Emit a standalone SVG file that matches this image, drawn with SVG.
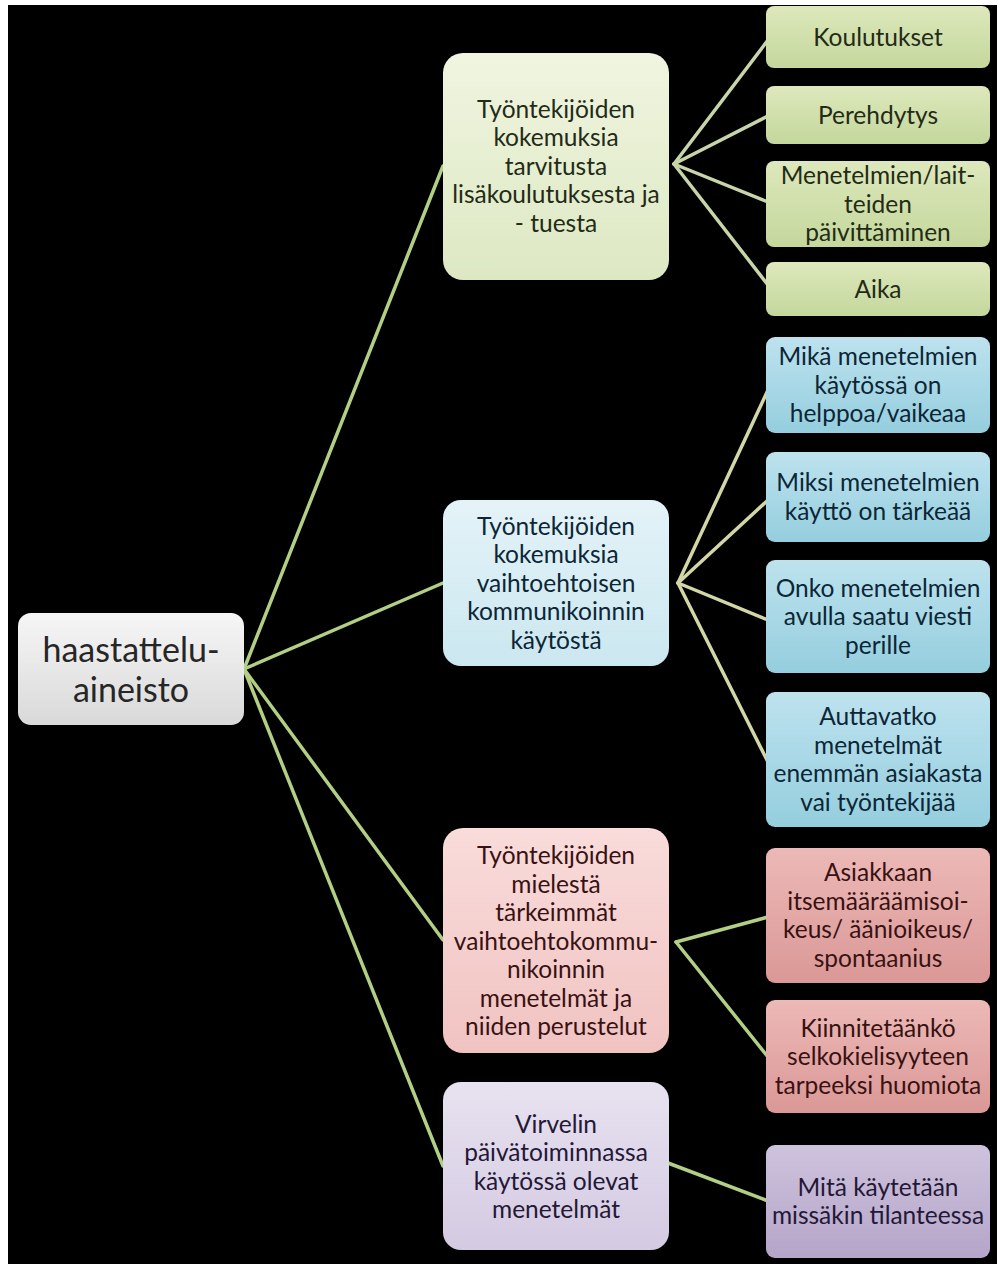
<svg xmlns="http://www.w3.org/2000/svg" width="997" height="1264" viewBox="0 0 997 1264">
<style>
text{font-family:Lato,"Open Sans","Liberation Sans",sans-serif;text-anchor:middle}
.t0{font-size:34px;fill:#262626}
.t1{font-size:24.5px}
.t2{font-size:24.5px}
.tg{fill:#232b16}
.tb{fill:#0c2636}
.tp{fill:#381212}
.tu{fill:#231836}
.c{fill:none;stroke-width:3.5;stroke-linecap:round}
.cg{stroke:#b3cf86}
.cy{stroke:#d3d6a6}
.ck{stroke:#c8d4aa}
</style>
<defs>
<linearGradient id="g0" x1="0" y1="0" x2="0" y2="1"><stop offset="0" stop-color="#f6f6f6"/><stop offset="1" stop-color="#d9d9d9"/></linearGradient>
<linearGradient id="gG1" x1="0" y1="0" x2="0" y2="1"><stop offset="0" stop-color="#f0f5e0"/><stop offset="1" stop-color="#dde8c3"/></linearGradient>
<linearGradient id="gG2" x1="0" y1="0" x2="0" y2="1"><stop offset="0" stop-color="#dde8bc"/><stop offset="1" stop-color="#c4d79c"/></linearGradient>
<linearGradient id="gB1" x1="0" y1="0" x2="0" y2="1"><stop offset="0" stop-color="#e4f3f8"/><stop offset="1" stop-color="#cbe7f0"/></linearGradient>
<linearGradient id="gB2" x1="0" y1="0" x2="0" y2="1"><stop offset="0" stop-color="#bde2ee"/><stop offset="1" stop-color="#95cede"/></linearGradient>
<linearGradient id="gP1" x1="0" y1="0" x2="0" y2="1"><stop offset="0" stop-color="#f9dcdb"/><stop offset="1" stop-color="#f0c3c1"/></linearGradient>
<linearGradient id="gP2" x1="0" y1="0" x2="0" y2="1"><stop offset="0" stop-color="#ecb9b7"/><stop offset="1" stop-color="#da9896"/></linearGradient>
<linearGradient id="gU1" x1="0" y1="0" x2="0" y2="1"><stop offset="0" stop-color="#e8e2f0"/><stop offset="1" stop-color="#d4cae2"/></linearGradient>
<linearGradient id="gU2" x1="0" y1="0" x2="0" y2="1"><stop offset="0" stop-color="#cec3dd"/><stop offset="1" stop-color="#b5a5c9"/></linearGradient>
</defs>
<rect x="0" y="0" width="997" height="1264" fill="#ffffff"/>
<rect x="8" y="5" width="989" height="1259" fill="#000000"/>

<g id="connectors">
<line class="c cg" x1="244" y1="669" x2="443" y2="166"/>
<line class="c cg" x1="244" y1="669" x2="443" y2="583"/>
<line class="c cg" x1="244" y1="669" x2="443" y2="940"/>
<line class="c cg" x1="244" y1="669" x2="443" y2="1166"/>
<line class="c ck" x1="674" y1="164" x2="768" y2="40"/>
<line class="c ck" x1="674" y1="164" x2="768" y2="116"/>
<line class="c ck" x1="674" y1="164" x2="768" y2="202"/>
<line class="c ck" x1="674" y1="164" x2="768" y2="285"/>
<line class="c cy" x1="678" y1="583" x2="768" y2="390"/>
<line class="c cy" x1="678" y1="583" x2="768" y2="500"/>
<line class="c cy" x1="678" y1="583" x2="768" y2="620"/>
<line class="c cy" x1="678" y1="583" x2="768" y2="762"/>
<line class="c cg" x1="676" y1="942" x2="768" y2="917"/>
<line class="c cg" x1="676" y1="942" x2="768" y2="1057"/>
<line class="c cg" x1="668" y1="1163" x2="768" y2="1201"/>
</g>

<g id="root">
<rect x="18" y="613" width="226" height="112" rx="13" fill="url(#g0)"/>
<text class="t0" x="131" y="662">haastattelu-</text>
<text class="t0" x="131" y="702">aineisto</text>
</g>

<g id="n-lisakoulutus">
<rect x="443" y="53" width="226" height="227" rx="20" fill="url(#gG1)"/>
<text class="t1 tg" x="556" y="117.5">Työntekijöiden</text>
<text class="t1 tg" x="556" y="146">kokemuksia</text>
<text class="t1 tg" x="556" y="174.5">tarvitusta</text>
<text class="t1 tg" x="556" y="203">lisäkoulutuksesta ja</text>
<text class="t1 tg" x="556" y="231.5">- tuesta</text>
</g>

<g id="n-kaytosta">
<rect x="443" y="500" width="226" height="166" rx="18" fill="url(#gB1)"/>
<text class="t1 tb" x="556" y="534.5">Työntekijöiden</text>
<text class="t1 tb" x="556" y="563">kokemuksia</text>
<text class="t1 tb" x="556" y="591.5">vaihtoehtoisen</text>
<text class="t1 tb" x="556" y="620">kommunikoinnin</text>
<text class="t1 tb" x="556" y="648.5">käytöstä</text>
</g>

<g id="n-tarkeimmat">
<rect x="443" y="828" width="226" height="225" rx="20" fill="url(#gP1)"/>
<text class="t1 tp" x="556" y="864">Työntekijöiden</text>
<text class="t1 tp" x="556" y="892.5">mielestä</text>
<text class="t1 tp" x="556" y="921">tärkeimmät</text>
<text class="t1 tp" x="556" y="949.5">vaihtoehtokommu-</text>
<text class="t1 tp" x="556" y="978">nikoinnin</text>
<text class="t1 tp" x="556" y="1006.5">menetelmät ja</text>
<text class="t1 tp" x="556" y="1035">niiden perustelut</text>
</g>

<g id="n-virveli">
<rect x="443" y="1082" width="226" height="168" rx="18" fill="url(#gU1)"/>
<text class="t1 tu" x="556" y="1132.5">Virvelin</text>
<text class="t1 tu" x="556" y="1161">päivätoiminnassa</text>
<text class="t1 tu" x="556" y="1189.5">käytössä olevat</text>
<text class="t1 tu" x="556" y="1218">menetelmät</text>
</g>

<g id="n-koulutukset">
<rect x="766" y="6" width="224" height="62" rx="8" fill="url(#gG2)"/>
<text class="t2 tg" x="878" y="45.5">Koulutukset</text>
</g>
<g id="n-perehdytys">
<rect x="766" y="86" width="224" height="58" rx="8" fill="url(#gG2)"/>
<text class="t2 tg" x="878" y="123.5">Perehdytys</text>
</g>
<g id="n-paivittaminen">
<rect x="766" y="161" width="224" height="86" rx="8" fill="url(#gG2)"/>
<text class="t2 tg" x="878" y="184">Menetelmien/lait-</text>
<text class="t2 tg" x="878" y="212.5">teiden</text>
<text class="t2 tg" x="878" y="241">päivittäminen</text>
</g>
<g id="n-aika">
<rect x="766" y="262" width="224" height="54" rx="8" fill="url(#gG2)"/>
<text class="t2 tg" x="878" y="297.5">Aika</text>
</g>

<g id="n-helppoa">
<rect x="766" y="337" width="224" height="96" rx="9" fill="url(#gB2)"/>
<text class="t2 tb" x="878" y="365">Mikä menetelmien</text>
<text class="t2 tb" x="878" y="393.5">käytössä on</text>
<text class="t2 tb" x="878" y="422">helppoa/vaikeaa</text>
</g>
<g id="n-tarkeaa">
<rect x="766" y="452" width="224" height="90" rx="9" fill="url(#gB2)"/>
<text class="t2 tb" x="878" y="491">Miksi menetelmien</text>
<text class="t2 tb" x="878" y="519.5">käyttö on tärkeää</text>
</g>
<g id="n-perille">
<rect x="766" y="560" width="224" height="113" rx="9" fill="url(#gB2)"/>
<text class="t2 tb" x="878" y="596.5">Onko menetelmien</text>
<text class="t2 tb" x="878" y="625">avulla saatu viesti</text>
<text class="t2 tb" x="878" y="653.5">perille</text>
</g>
<g id="n-auttavatko">
<rect x="766" y="692" width="224" height="135" rx="9" fill="url(#gB2)"/>
<text class="t2 tb" x="878" y="725">Auttavatko</text>
<text class="t2 tb" x="878" y="753.5">menetelmät</text>
<text class="t2 tb" x="878" y="782">enemmän asiakasta</text>
<text class="t2 tb" x="878" y="810.5">vai työntekijää</text>
</g>

<g id="n-asiakkaan">
<rect x="766" y="848" width="224" height="135" rx="9" fill="url(#gP2)"/>
<text class="t2 tp" x="878" y="881">Asiakkaan</text>
<text class="t2 tp" x="878" y="909.5">itsemääräämisoi-</text>
<text class="t2 tp" x="878" y="938">keus/ äänioikeus/</text>
<text class="t2 tp" x="878" y="966.5">spontaanius</text>
</g>
<g id="n-selkokieli">
<rect x="766" y="1000" width="224" height="113" rx="9" fill="url(#gP2)"/>
<text class="t2 tp" x="878" y="1036.5">Kiinnitetäänkö</text>
<text class="t2 tp" x="878" y="1065">selkokielisyyteen</text>
<text class="t2 tp" x="878" y="1093.5">tarpeeksi huomiota</text>
</g>

<g id="n-tilanteessa">
<rect x="766" y="1145" width="224" height="113" rx="9" fill="url(#gU2)"/>
<text class="t2 tu" x="878" y="1195.5">Mitä käytetään</text>
<text class="t2 tu" x="878" y="1224">missäkin tilanteessa</text>
</g>
</svg>
